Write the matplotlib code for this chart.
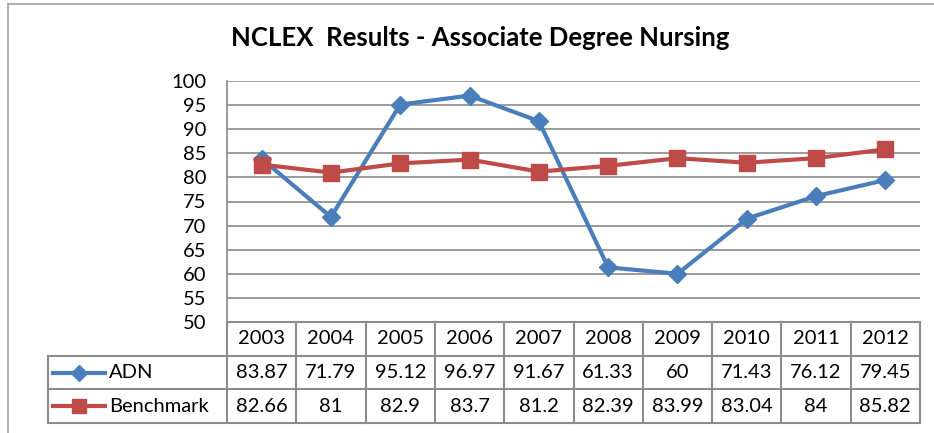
import numpy as np
import matplotlib
matplotlib.use("Agg")
import matplotlib.pyplot as plt
from matplotlib.lines import Line2D

plt.rcParams['font.family'] = ['Lato', 'DejaVu Sans']

# data
years = ["2003", "2004", "2005", "2006", "2007", "2008", "2009", "2010", "2011", "2012"]
adn = [83.87, 71.79, 95.12, 96.97, 91.67, 61.33, 60, 71.43, 76.12, 79.45]
benchmark = [82.66, 81, 82.9, 83.7, 81.2, 82.39, 83.99, 83.04, 84, 85.82]
adn_labels = ["83.87", "71.79", "95.12", "96.97", "91.67", "61.33", "60", "71.43", "76.12", "79.45"]
bench_labels = ["82.66", "81", "82.9", "83.7", "81.2", "82.39", "83.99", "83.04", "84", "85.82"]
series_names = ["ADN", "Benchmark"]

blue = "#4a7ebb"
red = "#be4b48"
grid_c = "#8a8a8a"
fs = 14.5

W, H = 934, 433
fig = plt.figure(figsize=(W / 100, H / 100), dpi=100)

# chart frame (only left + top visible)
fig.add_artist(Line2D([8 / W, 8 / W], [0, 1 - 4 / H], color="#a0a0a0", lw=1.2))
fig.add_artist(Line2D([8 / W, 1], [1 - 4 / H, 1 - 4 / H], color="#a0a0a0", lw=1.2))

fig.text(480 / W, 1 - 38 / H, "NCLEX  Results - Associate Degree Nursing",
         ha="center", va="center", fontsize=18.5, fontweight="bold")

# main plot
left, right, top, bottom = 227, 920, 81, 322
ax = fig.add_axes([left / W, 1 - bottom / H, (right - left) / W, (bottom - top) / H])
x = np.arange(len(years))
ax.plot(x, adn, color=blue, lw=3, marker="D", markersize=9, zorder=3)
ax.plot(x, benchmark, color=red, lw=3, marker="s", markersize=11, zorder=3)
ax.set_xlim(-0.5, len(years) - 0.5)
ax.set_ylim(50, 100)
ax.set_yticks(np.arange(50, 101, 5))
ax.set_xticks([])
ax.yaxis.grid(True, color=grid_c, lw=1.2)
ax.set_axisbelow(True)
for s in ["top", "right", "bottom"]:
    ax.spines[s].set_visible(False)
ax.spines["left"].set_color(grid_c)
ax.spines["left"].set_linewidth(1.2)
ax.tick_params(axis="y", length=0, pad=15, labelsize=fs)

# data table underneath
tleft, tbottom = 48, 423
col_w = (right - left) / len(years)
x0 = -0.5 - (left - tleft) / col_w
tax = fig.add_axes([tleft / W, 1 - tbottom / H, (right - tleft) / W, (tbottom - bottom) / H])
tax.set_xlim(x0, len(years) - 0.5)
tax.set_ylim(3, 0)
tax.axis("off")
lc = "#8c8c8c"
lkw = dict(color=lc, lw=1.5, clip_on=False)
tax.plot([-0.5, len(years) - 0.5], [0, 0], **lkw)
for yy in [1, 2, 3]:
    tax.plot([x0, len(years) - 0.5], [yy, yy], **lkw)
tax.plot([x0, x0], [1, 3], **lkw)
for i in range(len(years) + 1):
    tax.plot([i - 0.5, i - 0.5], [0, 3], **lkw)

for i, yr in enumerate(years):
    tax.text(i, 0.5, yr, ha="center", va="center", fontsize=fs)
    tax.text(i, 1.5, adn_labels[i], ha="center", va="center", fontsize=fs)
    tax.text(i, 2.5, bench_labels[i], ha="center", va="center", fontsize=fs)

# legend keys in the row headers
kx = x0 + np.array([5, 57]) / col_w
for row, name, c, m, ms in [(1.5, series_names[0], blue, "D", 8), (2.5, series_names[1], red, "s", 10)]:
    tax.plot(kx, [row, row], color=c, lw=3, clip_on=False)
    tax.plot([kx.mean()], [row], color=c, marker=m, markersize=ms, clip_on=False)
    tax.text(x0 + 61 / col_w, row, name, ha="left", va="center", fontsize=fs)

plt.savefig("out.png", dpi=100)
